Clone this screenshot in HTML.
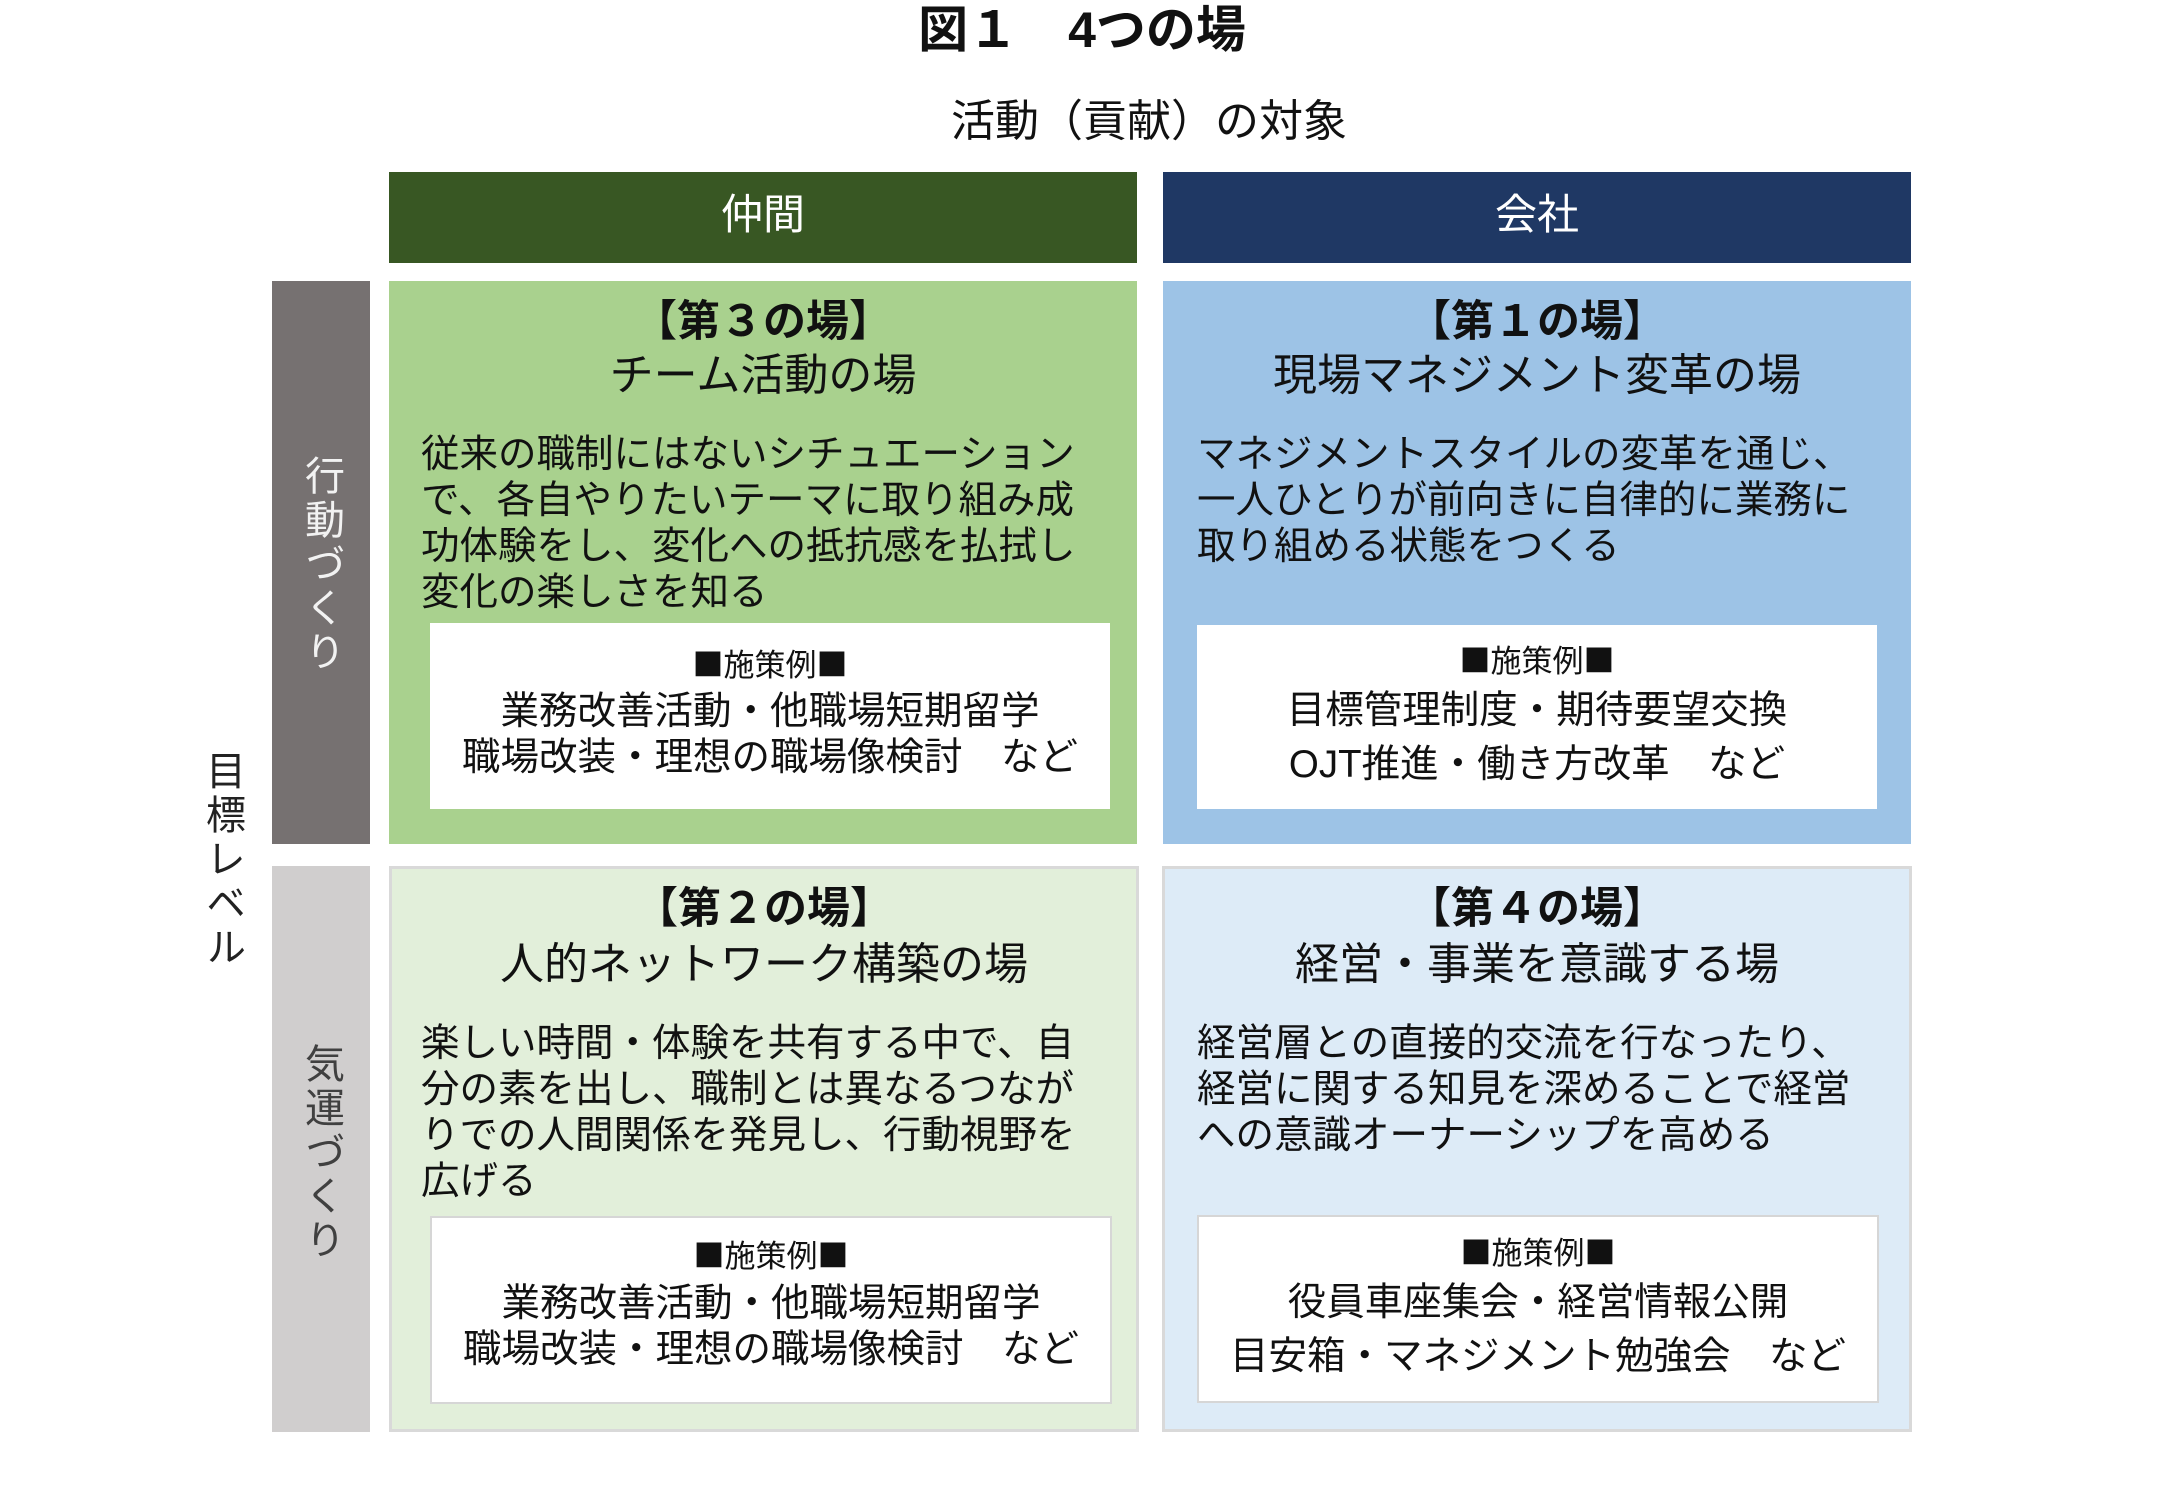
<!DOCTYPE html>
<html><head><meta charset="utf-8"><style>
body{margin:0;width:2160px;height:1495px;background:#fff;position:relative;overflow:hidden;font-family:"Liberation Sans","Noto Sans CJK JP",sans-serif;color:#111}
.a{position:absolute;box-sizing:border-box}
.t{position:absolute;white-space:nowrap;line-height:50px;height:50px}
.c{text-align:center}
.b{font-weight:bold}
.j{font-family:"Noto Sans CJK JP",sans-serif}
.v{position:absolute;writing-mode:vertical-rl;font-size:40px;line-height:40px;letter-spacing:4px}
</style></head><body>
<div class="t c b" style="left:0;width:2164px;top:3px;font-size:50px;line-height:54px">図１　4つの場</div>
<div class="t c" style="left:899px;width:500px;top:97px;font-size:44px">活動（貢献）の対象</div>

<div class="a" style="left:389px;top:172px;width:748px;height:91px;background:#385723"></div>
<div class="a" style="left:1163px;top:172px;width:748px;height:91px;background:#1f3864"></div>
<div class="t c" style="left:389px;width:748px;top:190px;font-size:42px;color:#fff">仲間</div>
<div class="t c" style="left:1163px;width:748px;top:190px;font-size:42px;color:#fff">会社</div>

<div class="a" style="left:272px;top:281px;width:98px;height:563px;background:#767171"></div>
<div class="a" style="left:272px;top:866px;width:98px;height:566px;background:#d0cece"></div>
<div class="v" style="left:301px;top:455px;color:#f2f2f2">行動づくり</div>
<div class="v" style="left:301px;top:1043px;color:#404040">気運づくり</div>
<div class="v" style="left:202px;top:750px;color:#222">目標レベル</div>

<!-- Q1 green -->
<div class="a" style="left:389px;top:281px;width:748px;height:563px;background:#a9d18e"></div>
<div class="t c b" style="left:389px;width:748px;top:297px;font-size:43px">【第３の場】</div>
<div class="t c" style="left:389px;width:748px;top:351px;font-size:44px">チーム活動の場</div>
<div class="t" style="left:421px;top:432px;font-size:38.5px;line-height:46px">従来の職制にはないシチュエーション<br>で、各自やりたいテーマに取り組み成<br>功体験をし、変化への抵抗感を払拭し<br>変化の楽しさを知る</div>
<div class="a" style="left:430px;top:623px;width:680px;height:186px;background:#fff"></div>
<div class="t c j" style="left:430px;width:680px;top:638px;font-size:31px">■施策例■</div>
<div class="t c" style="left:430px;width:680px;top:689px;font-size:38.5px;line-height:46px">業務改善活動・他職場短期留学<br>職場改装・理想の職場像検討　など</div>

<!-- Q2 blue -->
<div class="a" style="left:1163px;top:281px;width:748px;height:563px;background:#9dc3e6"></div>
<div class="t c b" style="left:1163px;width:748px;top:297px;font-size:43px">【第１の場】</div>
<div class="t c" style="left:1163px;width:748px;top:351px;font-size:44px">現場マネジメント変革の場</div>
<div class="t" style="left:1197px;top:432px;font-size:38.5px;line-height:46px">マネジメントスタイルの変革を通じ、<br>一人ひとりが前向きに自律的に業務に<br>取り組める状態をつくる</div>
<div class="a" style="left:1197px;top:625px;width:680px;height:184px;background:#fff"></div>
<div class="t c j" style="left:1197px;width:680px;top:634px;font-size:31px">■施策例■</div>
<div class="t c" style="left:1197px;width:680px;top:684px;font-size:38.5px;line-height:54px">目標管理制度・期待要望交換<br>OJT推進・働き方改革　など</div>

<!-- Q3 green light -->
<div class="a" style="left:389px;top:866px;width:750px;height:566px;background:#e2efda;border:3px solid #d9d9d9"></div>
<div class="t c b" style="left:389px;width:750px;top:884px;font-size:43px">【第２の場】</div>
<div class="t c" style="left:389px;width:750px;top:940px;font-size:44px">人的ネットワーク構築の場</div>
<div class="t" style="left:421px;top:1021px;font-size:38.5px;line-height:46px">楽しい時間・体験を共有する中で、自<br>分の素を出し、職制とは異なるつなが<br>りでの人間関係を発見し、行動視野を<br>広げる</div>
<div class="a" style="left:430px;top:1216px;width:682px;height:188px;background:#fff;border:2px solid #d6d6d6"></div>
<div class="t c j" style="left:430px;width:682px;top:1229px;font-size:31px">■施策例■</div>
<div class="t c" style="left:430px;width:682px;top:1281px;font-size:38.5px;line-height:46px">業務改善活動・他職場短期留学<br>職場改装・理想の職場像検討　など</div>

<!-- Q4 blue light -->
<div class="a" style="left:1162px;top:866px;width:750px;height:566px;background:#ddebf7;border:3px solid #d9d9d9"></div>
<div class="t c b" style="left:1162px;width:750px;top:884px;font-size:43px">【第４の場】</div>
<div class="t c" style="left:1162px;width:750px;top:940px;font-size:44px">経営・事業を意識する場</div>
<div class="t" style="left:1197px;top:1021px;font-size:38.5px;line-height:46px">経営層との直接的交流を行なったり、<br>経営に関する知見を深めることで経営<br>への意識オーナーシップを高める</div>
<div class="a" style="left:1197px;top:1215px;width:682px;height:188px;background:#fff;border:2px solid #d6d6d6"></div>
<div class="t c j" style="left:1197px;width:682px;top:1226px;font-size:31px">■施策例■</div>
<div class="t c" style="left:1197px;width:682px;top:1276px;font-size:38.5px;line-height:54px">役員車座集会・経営情報公開<br>目安箱・マネジメント勉強会　など</div>
</body></html>
